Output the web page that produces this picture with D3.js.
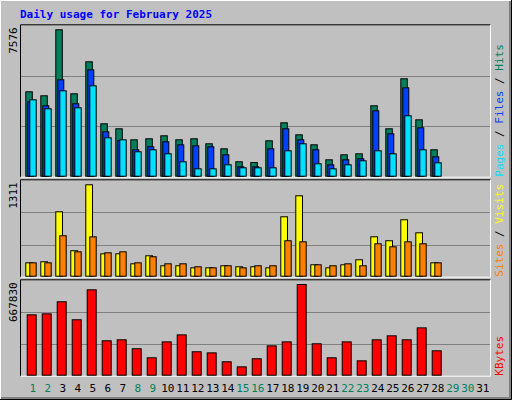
<!DOCTYPE html>
<html><head><meta charset="utf-8">
<script src="https://cdn.jsdelivr.net/npm/d3@7"></script>
<style>body{margin:0;background:#fff}svg{display:block}text{font-family:"DejaVu Sans Mono",monospace}</style>
</head><body><svg width="512" height="400"></svg>
<script>
const days = d3.range(1,32);
const weekendDays = [1,2,8,9,15,16,22,23,29,30];
const hits  = [4390,4184,7576,4287,5931,2745,2488,1922,1974,2128,1922,1974,1717,1460,792,756,1871,2796,2179,1665,894,1151,1203,3670,2488,5058,2950,1408];
const files = [3875,3670,5006,3773,5520,2333,1886,1408,1562,1820,1665,1614,1562,1151,535,535,1460,2488,1922,1408,637,894,946,3413,2231,4595,2539,1049];
const pages = [3978,3516,4441,3567,4698,2025,1922,1306,1408,1203,792,432,432,637,483,483,483,1357,1717,689,432,637,843,1357,1203,3156,1408,740];
const visits= [204,219,928,375,1311,332,332,190,304,162,162,133,133,162,148,148,133,857,1155,176,133,176,247,573,517,815,630,204];
const sites = [204,204,588,360,573,346,360,204,290,190,190,148,133,162,133,162,162,517,502,176,162,190,162,474,431,502,474,204];
const kbytes= [447000,454000,542000,411000,629000,258000,265000,200000,134000,250000,301000,178000,170000,105000,68000,127000,221000,250000,667830,236000,134000,250000,112000,265000,294000,265000,352000,185000];

const svg = d3.select("svg");
// outer frame
svg.append("rect").attr("width",512).attr("height",400).attr("fill","#c0c0c0");
svg.append("path").attr("d","M0.5,399.5V0.5H511.5").attr("stroke","#fff").attr("fill","none");
svg.append("path").attr("d","M1,398.5H510.5V1").attr("stroke","#808080").attr("stroke-width",3).attr("fill","none");
svg.append("path").attr("d","M0,399.5H511.5V0").attr("stroke","#000").attr("fill","none");

svg.append("text").attr("x",20).attr("y",18).attr("fill","#0000ff").attr("font-weight","bold").attr("font-size",11).text("Daily usage for February 2025");

const x = d3.scaleLinear().domain([1,2]).range([25.3,40.3]);

const panels = [
 {top:25.3,bot:176.7,max:7576,maxY:29.3,series:[[hits,"#00805c",0,7.5],[files,"#0040ff",2,9],[pages,"#00e0ff",4,11.4]],
  labels:[["Pages","#00e0ff"],[" / ","#000"],["Files","#0040ff"],[" / ","#000"],["Hits","#00805c"]]},
 {top:180.3,bot:276.7,max:1311,maxY:184.3,series:[[visits,"#ffff00",0,7.7],[sites,"#ff8000",4,11.4]],
  labels:[["Sites","#ff8000"],[" / ","#000"],["Visits","#ffff00"]]},
 {top:280.3,bot:375.7,max:667830,maxY:284,series:[[kbytes,"#ff0000",1.4,11.4]],
  labels:[["KBytes","#ff0000"]]}
];
panels.forEach(p=>{
  const y = d3.scaleLinear().domain([0,p.max]).range([p.bot,p.maxY]);
  const h = p.bot-p.top;
  // panel border (inset)
  svg.append("path").attr("d",`M20.5,${p.bot+0.5}V${p.top-0.5}H490.5`).attr("stroke","#000").attr("fill","none");
  svg.append("path").attr("d",`M20.5,${p.bot+0.5}H490.5V${p.top-0.5}`).attr("stroke","#fff").attr("fill","none");
  [1,2].forEach(i=>{
    const gy = Math.round(p.top+h*i/3)+0.5;
    svg.append("line").attr("x1",21).attr("x2",490).attr("y1",gy).attr("y2",gy).attr("stroke","#808080");
  });
  p.series.forEach(([data,col,o1,o2])=>{
    svg.append("g").selectAll("rect").data(data).join("rect")
      .attr("x",(d,i)=>x(i+1)+o1+0.5).attr("width",o2-o1-1)
      .attr("y",d=>y(d)+0.5).attr("height",d=>p.bot-y(d)-1)
      .attr("fill",col).attr("stroke","#000");
  });
  svg.append("text").attr("transform",`translate(17,${p.top+2}) rotate(-90)`).attr("text-anchor","end")
    .attr("font-size",11).attr("fill","#000").text(p.max);
  const t = svg.append("text").attr("transform",`translate(503,${p.bot}) rotate(-90)`).attr("font-size",11);
  p.labels.forEach(([s,c])=>t.append("tspan").attr("fill",c).text(s));
});
svg.append("g").selectAll("text").data(days).join("text")
  .attr("x",d=>x(d)+7.5).attr("y",392).attr("text-anchor","middle").attr("font-size",11)
  .attr("fill",d=>weekendDays.includes(d)?"#00805c":"#000").text(d=>d);
</script></body></html>
